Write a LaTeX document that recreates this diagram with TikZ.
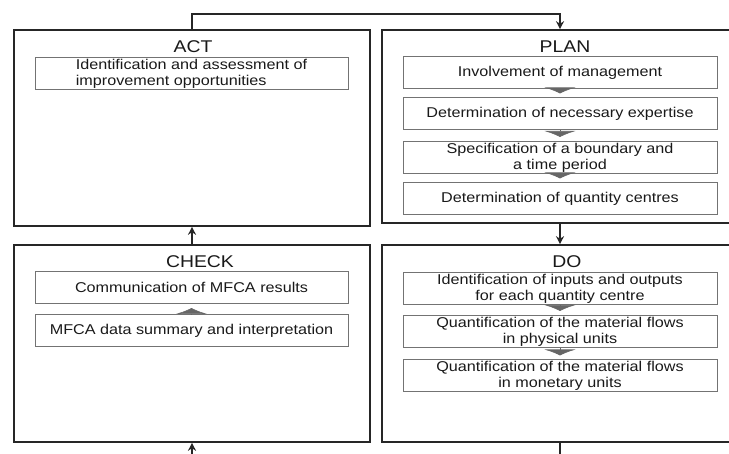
\documentclass[tikz,border=0pt]{standalone}
\usepackage{fontspec}
\setmainfont[FakeStretch=1.14]{Liberation Sans}
\usepackage{tikz}
\usetikzlibrary{calc}
\usetikzlibrary{arrows.meta}
\usetikzlibrary{positioning}
\tikzset{phase/.style={rectangle,draw=black!85,line width=1.6pt,inner sep=0pt,minimum width=356pt}}
\tikzset{title/.style={inner sep=0pt,font=\fontsize{17}{18}\selectfont,text=black!90}}
\tikzset{task/.style={rectangle,draw=black!55,line width=1pt,minimum width=314pt,minimum height=32pt,
    inner xsep=2pt,inner ysep=0pt,align=center,text=black!90,font=\fontsize{14.2}{16}\selectfont}}

\begin{document}
\begin{tikzpicture}[x=1pt,y=-1pt]
\tikzset{flow/.style={draw=black!85,line width=1.6pt,-{Stealth[length=8pt,width=8pt]}}}
\tikzset{chev/.style={draw=black!60,line width=0.6pt,shorten >=4pt,-{Latex[length=6pt,width=32pt]},fill=black!60}}
\useasboundingbox (0,0) rectangle (729,454);
\clip (0,0) rectangle (729,454);

\pgfmathsetmacro{\colL}{192}
\pgfmathsetmacro{\colR}{560}

% the four phases
\node[phase,minimum height=196pt] (act) at (\colL,128) {};
\node[phase,minimum height=193pt] (plan) at (\colR,126.5) {};
\node[phase,minimum height=197pt] (check) at (\colL,343.5) {};
\node[phase,minimum height=197pt] (do) at (\colR,343.5) {};

\node[title] (actT) at (193,47) {ACT};
\node[title] (planT) at (565,47) {PLAN};
\node[title] (checkT) at (200,262) {CHECK};
\node[title] (doT) at (567,262) {DO};

% ACT
\node[task,minimum width=313pt,align=left] (a1) at (191.5,73.5) {Identification and assessment of\\improvement opportunities};

% PLAN
\node[task] (p1) at (\colR,72.5) {Involvement of management};
\node[task] (p2) at (\colR,114) {Determination of necessary expertise};
\node[task] (p3) at (\colR,157.5) {Specification of a boundary and\\a time period};
\node[task] (p4) at (\colR,199) {Determination of quantity centres};

% CHECK
\node[task,minimum width=313pt] (c1) at (191.5,287.5) {Communication of MFCA results};
\node[task,minimum width=313pt] (c2) at (191.5,331) {MFCA data summary and interpretation};

% DO
\node[task] (d1) at (\colR,289) {Identification of inputs and outputs\\for each quantity centre};
\node[task] (d2) at (\colR,331.5) {Quantification of the material flows\\in physical units};
\node[task] (d3) at (\colR,376) {Quantification of the material flows\\in monetary units};

% small steps inside the phases
\draw[chev] (p1.south) -- (p2.north);
\draw[chev] (p2.south) -- (p3.north);
\draw[chev] (p3.south) -- (p4.north);
\draw[chev] (d1.south) -- (d2.north);
\draw[chev] (d2.south) -- (d3.north);
\draw[chev] (c2.north) -- (c1.south);

% the cycle
\draw[flow] (act.north) -- ++(0,-15) -| (plan.north);
\draw[flow] (plan.south) -- (do.north);
\draw[flow] (do.south) -- ++(0,25) -| (check.south);
\draw[flow] (check.north) -- (act.south);
\end{tikzpicture}
\end{document}
